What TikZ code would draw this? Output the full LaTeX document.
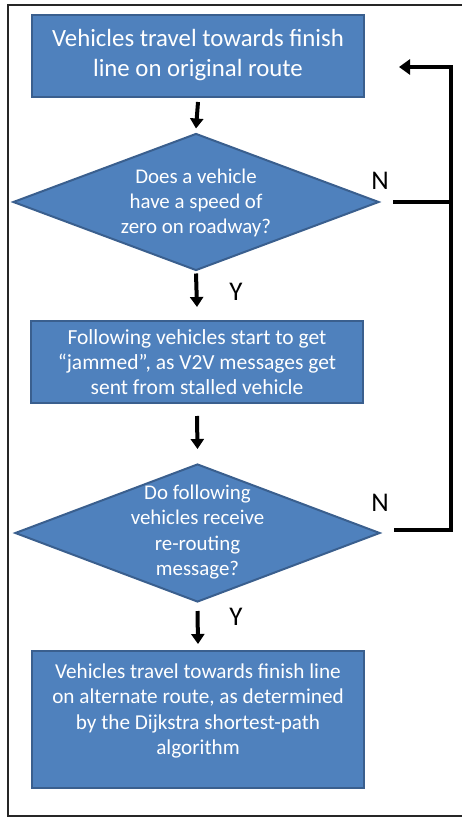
\documentclass[tikz,border=0pt]{standalone}
\usepackage{fontspec}
\setmainfont{Carlito}
\usetikzlibrary{shapes.geometric,arrows.meta}
\definecolor{boxfill}{HTML}{4F81BD}
\definecolor{boxedge}{HTML}{3A5F8E}
\tikzset{
  procbox/.style={draw=boxedge, line width=2pt, fill=boxfill, rectangle, inner sep=0pt},
  decbox/.style={draw=boxedge, line width=2pt, fill=boxfill, diamond, inner sep=0pt},
  boxtext/.style={text=white, align=center, inner sep=0pt},
  flowarrow/.style={line width=4pt, -{Triangle[width=13pt,length=10pt]}},
  loopline/.style={line width=4.5pt, line join=miter},
  answer/.style={inner sep=0pt, font=\fontsize{27}{27}\selectfont},
  frame/.style={line width=1.5pt, draw=black!85}
}
\begin{document}
\begin{tikzpicture}[x=1pt, y=-1pt]
\useasboundingbox (0,0) rectangle (462,818);
% outer frame, open on the right
\draw[frame] (462,5) -- (8,5) -- (8,816) -- (462,816);

% process steps and decisions
\node[procbox, minimum width=332pt, minimum height=82pt] (b1) at (198,56) {};
\node[boxtext, font=\fontsize{24.8}{30}\selectfont] (b1t) at (198,55) {Vehicles travel towards finish\\line on original route};

\node[decbox, minimum width=366pt, minimum height=137pt] (d1) at (196,202) {};
\node[boxtext, font=\fontsize{20.9}{25}\selectfont] (d1t) at (196,203) {Does a vehicle\\have a speed of\\zero on roadway?};

\node[procbox, minimum width=332pt, minimum height=82pt] (b2) at (197,362) {};
\node[boxtext, font=\fontsize{21.5}{25}\selectfont] (b2t) at (197,362) {Following vehicles start to get\\“jammed”, as V2V messages get\\sent from stalled vehicle};

\node[decbox, minimum width=365pt, minimum height=138pt] (d2) at (197.5,533) {};
\node[boxtext, font=\fontsize{20.9}{25.5}\selectfont] (d2t) at (197.5,532) {Do following\\vehicles receive\\re-routing\\message?};

\node[procbox, minimum width=332pt, minimum height=137pt] (b3) at (198,719.5) {};
\node[boxtext, font=\fontsize{21.2}{25.5}\selectfont] (b3t) at (198,711) {Vehicles travel towards finish line\\on alternate route, as determined\\by the Dijkstra shortest-path\\algorithm};

% downward flow
\draw[flowarrow] ([yshift=-4pt]b1.south) -- ([yshift=4pt]d1.north);
\draw[flowarrow] ([yshift=-2pt]d1.south) -- ([yshift=13pt]b2.north);
\draw[flowarrow] ([yshift=-12pt]b2.south) -- ([yshift=14pt]d2.north);
\draw[flowarrow] ([yshift=-8pt]d2.south) -- ([yshift=6pt]b3.north);

% Y / N labels
\node[answer] (y1) at (236,292) {Y};
\node[answer] (y2) at (236,617) {Y};
\node[answer] (n1) at (380,181) {N};
\node[answer] (n2) at (380,503) {N};

% return path for the N branches
\coordinate (rtop) at (451,67);
\coordinate (rbot) at (451,530);
\draw[loopline] ([xshift=13pt]d1.east) -- (d1.east -| rtop);
\draw[loopline, -{Triangle[width=15pt,length=11pt]}] ([xshift=13pt]d2.east |- rbot) -- (rbot) -- (rtop) -- ([xshift=34pt]b1.east |- rtop);
\end{tikzpicture}
\end{document}
